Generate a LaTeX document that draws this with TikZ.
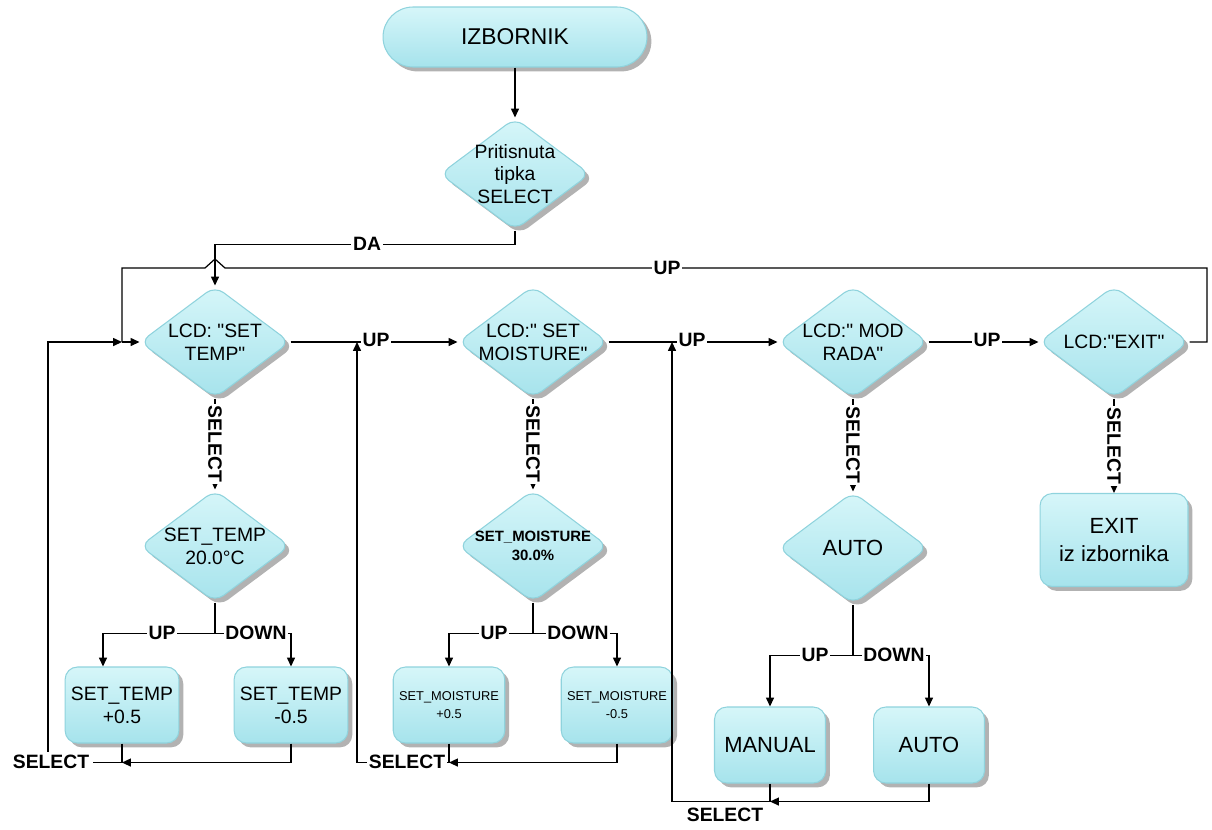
\documentclass[tikz,border=0pt]{standalone}
\usepackage{fontspec}
\setmainfont{Liberation Sans}[Ligatures=TeXOff]
\usetikzlibrary{shapes.geometric,shadows,arrows.meta,calc}
\definecolor{bord}{HTML}{8FD3DD}
\definecolor{ftop}{HTML}{D6F6F9}
\definecolor{fbot}{HTML}{A6E3EC}
\begin{document}
\begin{tikzpicture}[x=0.02cm,y=-0.02cm,
  shapebase/.style={draw=bord, line width=0.6pt, top color=ftop, bottom color=fbot,
    drop shadow={shadow xshift=2.5pt, shadow yshift=-2.5pt, opacity=0.3, fill=black}},
  dia/.style={shapebase, diamond, inner sep=0pt, minimum width=3cm, minimum height=2.24cm, rounded corners=6pt},
  rbox/.style={shapebase, rectangle, rounded corners=7pt, minimum width=2.22cm, minimum height=1.52cm,
    align=center, font=\fontsize{11}{13}\selectfont},
  term/.style={shapebase, rectangle, rounded corners=0.6cm, minimum width=5.28cm, minimum height=1.2cm,
    font=\fontsize{13}{15}\selectfont},
  txt/.style={align=center, font=\fontsize{11}{13}\selectfont},
  lab/.style={font=\bfseries\fontsize{11}{12}\selectfont, fill=white, inner sep=1pt},
  ln/.style={line width=0.7pt},
  arr/.style={ln, -{Triangle[length=5pt,width=4.5pt]}}]
\useasboundingbox (0,0) rectangle (1212,829);

% shapes
\node[term] (iz) at (515,37) {IZBORNIK};
\node[dia] (d0) at (515,174) {};
\node[txt] (d0t) at (d0) {Pritisnuta\\tipka\\SELECT};

\node[dia] (d1) at (215,342) {};
\node[txt] (d1t) at (d1) {LCD: "SET\\TEMP"};
\node[dia] (d2) at (533,342) {};
\node[txt] (d2t) at (d2) {LCD:" SET\\MOISTURE"};
\node[dia] (d3) at (853,342) {};
\node[txt] (d3t) at (d3) {LCD:" MOD\\RADA"};
\node[dia] (d4) at (1114,342) {};
\node[txt] (d4t) at (d4) {LCD:"EXIT"};

\node[dia] (s1) at (215,546) {};
\node[txt] (s1t) at (s1) {SET\_TEMP\\20.0°C};
\node[dia] (s2) at (533,546) {};
\node[txt, font=\bfseries\fontsize{8.5}{11}\selectfont] (s2t) at (s2) {SET\_MOISTURE\\30.0\%};
\node[dia] (s3) at (853,548) {};
\node[txt, font=\fontsize{12.5}{15}\selectfont] (s3t) at (s3) {AUTO};

\node[rbox] (t1) at (122,705) {SET\_TEMP\\+0.5};
\node[rbox] (t2) at (291,705) {SET\_TEMP\\-0.5};
\node[rbox, font=\fontsize{7.3}{10}\selectfont] (m1) at (449,705) {SET\_MOISTURE\\+0.5};
\node[rbox, font=\fontsize{7.3}{10}\selectfont] (m2) at (617,705) {SET\_MOISTURE\\-0.5};
\node[rbox, font=\fontsize{12.5}{15}\selectfont] (a1) at (770,745) {MANUAL};
\node[rbox, font=\fontsize{12.5}{15}\selectfont] (a2) at (929,745) {AUTO};
\node[rbox, minimum width=2.96cm, minimum height=1.86cm, font=\fontsize{12.5}{16}\selectfont] (ex) at (1114,540) {EXIT\\ iz izbornika};

% top connectors
\draw[arr] (iz.south) -- (d0.north);
\draw[arr] (d0.south) -- ++(0,14) coordinate (da) -| (d1.north);
\node[lab] (lda) at (367,244) {DA};

% top UP loop with hop
\draw[ln] (d4.east) -- (1207,342) -- (1207,268) -- (225,268) -- (215,259) -- (205,268) -- (122,268) -- (122,342);
\node[lab] (lup0) at (667,268) {UP};

% main row
\draw[arr] (d1.east) -- (d2.west);
\node[lab] (lup1) at (376,340) {UP};
\draw[arr] (d2.east) -- (d3.west);
\node[lab] (lup2) at (692,340) {UP};
\draw[arr] (d3.east) -- (d4.west);
\node[lab] (lup3) at (987,340) {UP};
\draw[arr] (122,342) -- (d1.west);

% select verticals
\draw[arr] (d1.south) -- (s1.north) node[midway, lab, rotate=-90] (ls1) {SELECT};
\draw[arr] (d2.south) -- (s2.north) node[midway, lab, rotate=-90] (ls2) {SELECT};
\draw[arr] (d3.south) -- (s3.north) node[midway, lab, rotate=-90] (ls3) {SELECT};
\draw[arr] (d4.south) -- (ex.north) node[midway, lab, rotate=-90] (ls4) {SELECT};

% group 1
\draw[ln] (s1.south) -- ++(0,31) coordinate (b1);
\draw[arr] (b1) -| ($(t1.north)+(-19,0)$);
\draw[arr] (b1) -| (t2.north);
\node[lab] (lu1) at (162,633) {UP};
\node[lab] (ld1) at (256,633) {DOWN};
\draw[arr] (t2.south) |- ($(t1.south)+(0,19)$);
\draw[arr] (t1.south) -- ++(0,19) -| (48,342) -- (122,342);
\node[lab, inner sep=2pt] (lsel1) at (51,762) {SELECT};

% group 2
\draw[ln] (s2.south) -- ++(0,31) coordinate (b2);
\draw[arr] (b2) -| (m1.north);
\draw[arr] (b2) -| (m2.north);
\node[lab] (lu2) at (494,633) {UP};
\node[lab] (ld2) at (578,633) {DOWN};
\draw[arr] (m2.south) |- ($(m1.south)+(0,19)$);
\draw[arr] (m1.south) -- ++(0,19) -| (357,342);
\node[lab] (lsel2) at (407,762) {SELECT};

% group 3
\draw[ln] (s3.south) -- ++(0,51) coordinate (b3);
\draw[arr] (b3) -| (a1.north);
\draw[arr] (b3) -| (a2.north);
\node[lab] (lu3) at (815,655) {UP};
\node[lab] (ld3) at (894,655) {DOWN};
\draw[arr] (a2.south) |- ($(a1.south)+(0,18)$);
\draw[arr] (a1.south) -- ++(0,18) -| (672,342);
\node[lab] (lsel3) at (725,815) {SELECT};
\end{tikzpicture}
\end{document}
